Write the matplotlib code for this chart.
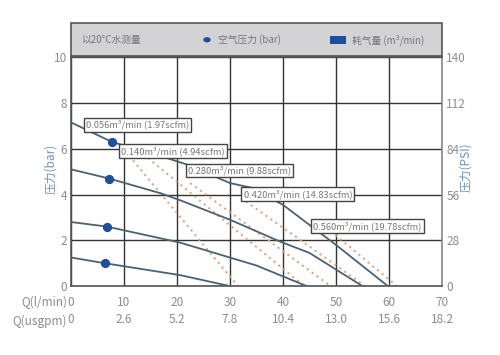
import matplotlib.pyplot as plt
from matplotlib.patches import Rectangle

plt.rcParams['font.family'] = ['Noto Sans CJK SC', 'DejaVu Sans']

# flow ticks
q_lmin = [0, 10, 20, 30, 40, 50, 60, 70]
q_usgpm = ['0', '2.6', '5.2', '7.8', '10.4', '13.0', '15.6', '18.2']
bar_ticks = [0, 2, 4, 6, 8, 10]
psi_ticks = [0, 28, 56, 84, 112, 140]

# pressure curves (outlet pressure vs flow), one per air pressure
p1_x = [0, 7.7, 18, 22, 30, 34, 40, 50, 59.8]
p1_y = [7.15, 6.3, 5.6, 5.3, 4.5, 4.3, 3.55, 1.8, 0]
p2_x = [0, 7.2, 17, 20.6, 30, 39.4, 45, 55]
p2_y = [5.1, 4.7, 4.05, 3.75, 2.9, 1.95, 1.45, 0]
p3_x = [0, 6.8, 20.6, 35, 44.5]
p3_y = [2.8, 2.6, 1.9, 0.9, 0]
p4_x = [0, 6.4, 20.6, 30]
p4_y = [1.25, 1.0, 0.48, 0]

# air pressure markers
dot_x = [7.7, 7.2, 6.8, 6.4]
dot_y = [6.3, 4.7, 2.6, 1.0]

# air consumption curves
c1_x = [9.5, 31.5]
c1_y = [6.1, 0]
c2_x = [14.5, 44]
c2_y = [5.6, 0]
c3_x = [22.5, 49]
c3_y = [4.5, 0]
c4_x = [33, 55.5]
c4_y = [3.7, 0]
c5_x = [49, 61.5]
c5_y = [2.4, 0]
c_labels = ['0.056m³/min (1.97scfm)', '0.140m³/min (4.94scfm)',
            '0.280m³/min (9.88scfm)', '0.420m³/min (14.83scfm)',
            '0.560m³/min (19.78scfm)']

grey = '#8c8c8c'
line_c = '#4c6272'
dot_c = '#1f4f9c'
org = '#e2a27a'

fig = plt.figure(figsize=(5.0, 3.55), dpi=100)
ax = fig.add_axes([0.142, 0.194, 0.742, 0.645])

for xs, ys in [(p1_x, p1_y), (p2_x, p2_y), (p3_x, p3_y), (p4_x, p4_y)]:
    ax.plot(xs, ys, color=line_c, lw=1.3, zorder=3)
for xs, ys in [(c1_x, c1_y), (c2_x, c2_y), (c3_x, c3_y), (c4_x, c4_y), (c5_x, c5_y)]:
    ax.plot(xs, ys, color=org, lw=1.4, ls=(0, (1.1, 2.0)), zorder=2)
ax.scatter(dot_x, dot_y, s=32, color=dot_c, zorder=4)

lab_pos = [(12.6, 7.05), (19.2, 5.9), (31.8, 5.05), (42.8, 4.03), (55.9, 2.63)]
for (lx, ly), t in zip(lab_pos, c_labels):
    ax.text(lx, ly, t, ha='center', va='center', fontsize=6.7, color='#777777', zorder=5,
            bbox=dict(boxstyle='square,pad=0.22', fc='white', ec='#444444', lw=1.0))

ax.set_xlim(0, 70)
ax.set_ylim(0, 10)
ax.set_xticks(q_lmin)
ax.set_xticklabels([f'{a}\n{b}' for a, b in zip(q_lmin, q_usgpm)], linespacing=1.45)
ax.set_yticks(bar_ticks)
ax.grid(True, color='#333333', lw=1.0)
ax.set_axisbelow(True)
ax.tick_params(length=0, labelsize=8.5, labelcolor=grey)
ax.tick_params(axis='x', pad=7)
ax.tick_params(axis='y', pad=3)
for s in ax.spines.values():
    s.set_color('#555555')
    s.set_linewidth(1.2)
ax.spines['right'].set_color('#8a8a8a')

ax2 = ax.twinx()
ax2.set_ylim(0, 140)
ax2.set_yticks(psi_ticks)
ax2.tick_params(length=0, labelsize=8.5, labelcolor=grey, pad=3)
for s in ax2.spines.values():
    s.set_visible(False)

ax.set_ylabel('压力(bar)', color='#6d94bd', fontsize=8.5)
ax.yaxis.set_label_coords(-0.036, 0.51)
ax2.set_ylabel('压力(PSI)', color='#6d94bd', fontsize=8.5)
ax2.yaxis.set_label_coords(1.046, 0.52)

fig.text(0.134, 0.148, 'Q(l/min)', ha='right', va='center', fontsize=8.5, color=grey)
fig.text(0.134, 0.096, 'Q(usgpm)', ha='right', va='center', fontsize=8.5, color=grey)

# header band
hdr = Rectangle((0.142, 0.842), 0.742, 0.093, transform=fig.transFigure,
                fc='#d3d3d5', ec='#555555', lw=1.2)
fig.patches.append(hdr)
fig.text(0.163, 0.888, '以20°C水测量', fontsize=7, color='#777777', va='center')
fig.patches.append(plt.Circle((0.414, 0.888), 0.0075, transform=fig.transFigure,
                              fc=dot_c, ec='none'))
fig.text(0.436, 0.888, '空气压力 (bar)', fontsize=7, color='#777777', va='center')
fig.patches.append(Rectangle((0.66, 0.877), 0.031, 0.022, transform=fig.transFigure,
                             fc=dot_c, ec='none'))
fig.text(0.703, 0.888, '耗气量 (m³/min)', fontsize=7, color='#777777', va='center')

fig.savefig('out.png', dpi=100)
